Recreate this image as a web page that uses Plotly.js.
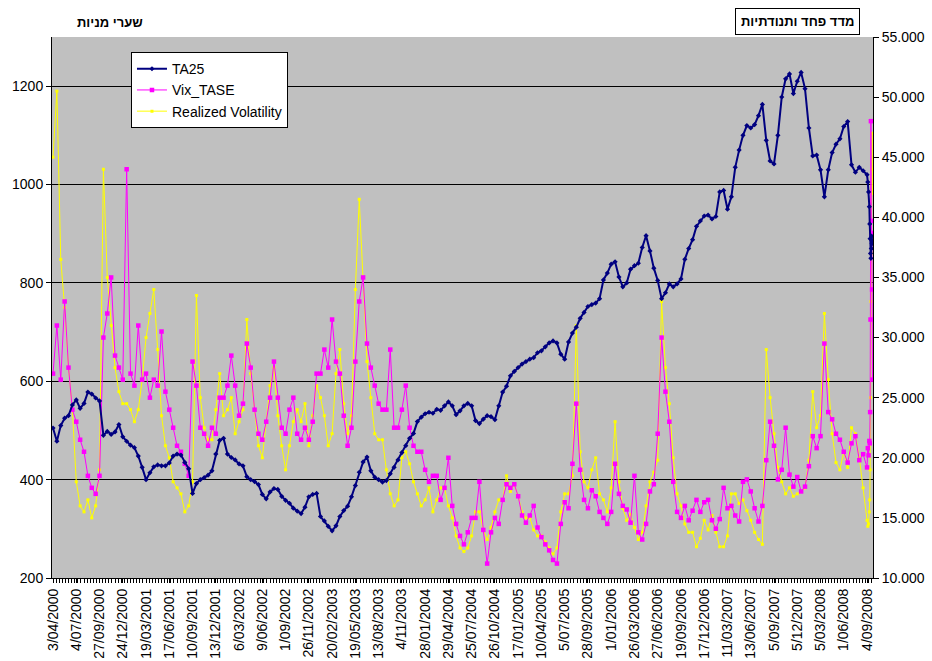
<!DOCTYPE html>
<html>
<head>
<meta charset="utf-8">
<script src="https://cdn.plot.ly/plotly-3.0.1.min.js"></script>
<style>
  html, body { margin: 0; padding: 0; background: #ffffff; }
  #chart { width: 932px; height: 661px; }
</style>
</head>
<body>
<div id="chart"></div>
<script>
// ---- tick labels (every 60 trading days) ----
const tickLabels = [
  "3/04/2000","4/07/2000","27/09/2000","24/12/2000","19/03/2001","17/06/2001",
  "10/09/2001","13/12/2001","6/03/2002","9/06/2002","1/09/2002","26/11/2002",
  "20/02/2003","19/05/2003","13/08/2003","4/11/2003","28/01/2004","29/04/2004",
  "25/07/2004","26/10/2004","17/01/2005","10/04/2005","5/07/2005","28/09/2005",
  "1/01/2006","26/03/2006","27/06/2006","19/09/2006","17/12/2006","11/03/2007",
  "13/06/2007","5/09/2007","5/12/2007","5/03/2008","1/06/2008","4/09/2008"
];
const labelStep = 60;          // trading days between labels
const sampleStep = 10;         // trading days between regular samples
const regularCount = 210;      // regular samples 0..2090
const tailDays = [2100,2102,2104,2106,2107,2108,2109,2110,2111,2112,2113,2114];

// ---- TA25 (left axis) ----
const ta25 = [
  505,478,510,525,530,552,562,545,555,578,
  574,566,560,490,498,492,497,512,487,478,
  470,465,448,425,400,414,426,430,428,428,
  434,448,452,450,435,422,372,392,400,404,
  409,418,452,480,484,452,445,440,432,428,
  406,400,396,390,370,361,375,382,380,366,
  358,352,342,336,331,344,365,370,372,325,
  316,305,296,306,325,337,346,365,388,415,
  436,446,418,405,400,395,398,412,425,440,
  455,469,484,494,518,527,534,537,535,543,
  541,550,558,550,532,540,550,555,550,520,
  514,523,530,528,522,550,578,590,611,620,
  628,635,640,645,648,658,662,670,678,682,
  678,655,645,680,698,710,728,740,752,756,
  759,768,806,820,838,843,812,792,800,828,
  835,840,872,896,865,830,805,768,780,798,
  792,798,808,848,870,888,915,926,936,938,
  930,935,985,988,950,975,1035,1070,1100,1120,
  1115,1122,1140,1163,1090,1048,1042,1100,1178,1215,
  1225,1185,1210,1228,1195,1115,1058,1060,1030,975,
  1030,1065,1082,1093,1118,1128,1040,1025,1035,1028,
  1020,1005,985,955,920,890,860,850,870,895,880,885
];

// ---- Vix_TASE (right axis) ----
const vixTase = [
  27,31,26.5,33,27.5,24,23,21.5,20.5,18.5,
  17.5,17,18.5,30,32,35,28.5,27.5,26.5,44,
  27,26,31,26.5,27,25,26.5,26,30.5,25.5,
  24,22.5,21,20.5,19.5,18.5,28,26,22.5,22,
  21,22.5,22,25,25,26,28.5,26,23.5,24.5,
  29.5,27.5,24,22,21.5,23,25,28,25,22.5,
  22,24,25,22,21.5,22.5,21.5,23,27,27,
  29,27.5,31.5,28,27,23.5,21,22.5,28,33,
  35,29.5,27.5,26,24.5,24,24,29,22.5,22.5,
  24,26,22.5,21,20.5,20.5,19,18,18.5,18.5,
  16.5,17.5,20,16,14.5,13.5,12.8,13.8,15,15,
  18,14,11.2,13.8,15,14.5,16.5,17.8,17.5,17.8,
  16.8,15.2,14.6,15.2,16,14.2,13.4,12.8,12.3,11.5,
  11.2,14.5,16.3,15.8,19.5,24.5,19,16.5,15.8,17.3,
  16.8,15.5,15,14.5,15.5,19.5,17,16,15.7,14.6,
  18.5,13.8,13.2,14.5,17.2,17.8,22,30,25.5,23,
  18,15.5,15,16,14.8,15.6,16.5,15.5,16.3,16.5,
  14.8,14.1,14.9,17.5,15.8,16,15.2,14.7,18,18.2,
  17.2,15.8,14.7,16,19.8,23,21,18.2,19,22.5,
  18.6,17.6,18.4,17.2,17.6,19.3,21.8,20.8,21.8,29.5,
  23.8,23.2,22,21.5,20.5,19.6,21.2,21.8,19.8,20.3,
  19.2,20.8,20.2,21.4,21.2,23.8,31.5,48,39.7,38.7,34,26.5
];

// ---- Realized Volatility (right axis) ----
const realizedVol = [
  45,50.5,36.5,32.5,27.5,24,18,16,15.5,16.5,
  15,16,19,44,35,31,27.5,25.5,24.5,24.5,
  24,23,24,26.5,30,32,34,29,23.5,21,
  20,18,17.5,17,15.5,16,18,33.5,25,22.5,
  21.5,21.5,24,27,23.5,24,25,22,23,24,
  31.5,27,24,21,20,23,26,27.5,23.5,21,
  19,21,23,24,23,24.5,21,23.5,26,25,
  23.5,21,22,27,29,24.5,22,23.5,34,41.5,
  35,28,25,22,21.5,21.5,19,17,16,16.5,
  20,20.5,19.5,18,17,16,16.5,17.5,15.5,16.5,
  17.5,17.5,16,15,13.5,12.5,12.2,12.5,13.5,15.5,
  15.5,14,13.2,14.2,15.5,16.5,16.5,18.5,17.2,17.8,
  16.8,15.5,15,15,14,13.5,13.5,13,12.5,12,
  12.5,15.5,17,17,18.5,31,20.5,18,17.5,19,
  20,17,16.5,15.5,17.5,23,18,15.8,14.8,15.3,
  14.2,13.2,13.8,16,18,18.8,19.8,33,27.5,24.5,
  20,17,16,14.5,13.8,13.8,12.6,13.3,14.8,14,
  15.2,13.8,12.6,12.6,13.5,17,17,16.2,16.5,15.6,
  14.8,13.8,13.2,12.8,29,25,22,19.2,18,17,
  17.5,16.8,17,17.2,17.5,19.8,25.5,22.5,23.5,32,
  26.5,22,19.6,19,20.5,19.2,22.5,22,20,17.5,
  14.8,14.3,14.5,15.5,16.5,19,25,33,37,44,47,42
];

// ---- category positions (trading-day index) ----
const days = [];
for (let i = 0; i < regularCount; i++) days.push(i * sampleStep);
tailDays.forEach(d => days.push(d));
const tickVals = tickLabels.map((_, k) => k * labelStep);

const FONT = 'Arial, "Liberation Sans", "DejaVu Sans", sans-serif';

const traces = [
  {
    name: 'Realized Volatility', x: days, y: realizedVol, yaxis: 'y',
    type: 'scatter', mode: 'lines+markers', legendrank: 3,
    line: { color: '#FFFF00', width: 1 },
    marker: { color: '#FFFF00', size: 3, symbol: 'square' }
  },
  {
    name: 'Vix_TASE', x: days, y: vixTase, yaxis: 'y',
    type: 'scatter', mode: 'lines+markers', legendrank: 2,
    line: { color: '#FF00FF', width: 1 },
    marker: { color: '#FF00FF', size: 4.5, symbol: 'square' }
  },
  {
    name: 'TA25', x: days, y: ta25, yaxis: 'y2',
    type: 'scatter', mode: 'lines+markers', legendrank: 1,
    line: { color: '#000080', width: 2 },
    marker: { color: '#000080', size: 4, symbol: 'diamond' }
  }
];

const layout = {
  width: 932, height: 661,
  margin: { l: 52, r: 59, t: 37, b: 83, pad: 0 },
  paper_bgcolor: '#ffffff',
  plot_bgcolor: '#C0C0C0',
  font: { family: FONT, size: 14, color: '#000000' },
  showlegend: true,
  legend: {
    x: 0.0962, y: 0.972, xanchor: 'left', yanchor: 'top',
    bgcolor: '#ffffff', bordercolor: '#000000', borderwidth: 1,
    font: { family: FONT, size: 14, color: '#000000' },
    itemwidth: 30, tracegroupgap: 0
  },
  xaxis: {
    range: [-2.6, 2115.4],
    tickmode: 'array', tickvals: tickVals, ticktext: tickLabels,
    tickangle: -90, tickfont: { family: FONT, size: 14, color: '#000000' },
    ticks: 'outside', ticklen: 4, tickcolor: '#000000', tickwidth: 1,
    minor: { tickmode: 'linear', tick0: 0, dtick: 8, ticks: 'outside', ticklen: 4, tickcolor: '#000000', showgrid: false },
    showline: true, linecolor: '#000000', linewidth: 1,
    showgrid: false, zeroline: false, fixedrange: true
  },
  yaxis: {
    side: 'right',
    range: [10, 55], tickmode: 'linear', tick0: 10, dtick: 5, tickformat: '.3f',
    tickfont: { family: FONT, size: 14, color: '#000000' },
    ticks: 'outside', ticklen: 5, tickcolor: '#000000',
    showline: true, linecolor: '#000000', linewidth: 1,
    showgrid: false, zeroline: false
  },
  yaxis2: {
    overlaying: 'y', side: 'left',
    range: [200, 1300], tickmode: 'array', tickvals: [200,400,600,800,1000,1200],
    tickfont: { family: FONT, size: 14, color: '#000000' },
    ticks: 'outside', ticklen: 5, tickcolor: '#000000',
    showline: true, linecolor: '#000000', linewidth: 1,
    showgrid: true, gridcolor: '#000000', gridwidth: 1, zeroline: false
  },
  annotations: [
    {
      text: '<b>שערי מניות</b>', xref: 'paper', yref: 'paper',
      x: 0.0706, y: 1.0259, xanchor: 'center', yanchor: 'middle',
      showarrow: false, font: { family: FONT, size: 13, color: '#000000' }
    },
    {
      text: '<b>מדד פחד ותנודתיות</b>', xref: 'paper', yref: 'paper',
      x: 0.908, y: 1.0287, xanchor: 'center', yanchor: 'middle',
      showarrow: false, bgcolor: '#ffffff', bordercolor: '#000000', borderwidth: 1, borderpad: 5,
      font: { family: FONT, size: 13, color: '#000000' }
    }
  ]
};

Plotly.newPlot('chart', traces, layout, { displayModeBar: false, staticPlot: true });
</script>
</body>
</html>
